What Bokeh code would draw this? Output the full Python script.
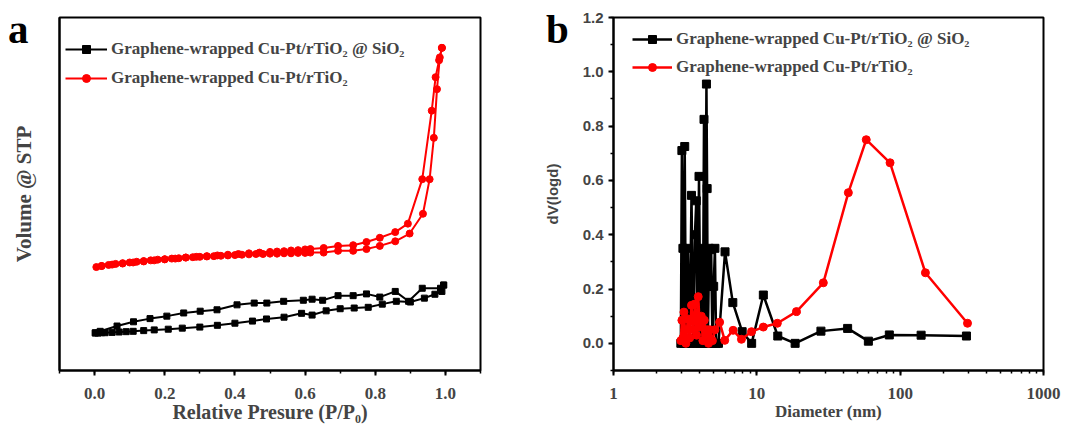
from bokeh.plotting import figure
from bokeh.layouts import row, column
from bokeh.models import (SingleIntervalTicker, FixedTicker, PrintfTickFormatter,
                          BasicTickFormatter, Range1d, Legend, LegendItem, LogTicker, Div)
from bokeh.embed import file_html
from bokeh.resources import INLINE

SERIF = "Liberation Serif"
SANS = "Liberation Sans"

LABEL_SI = "Graphene-wrapped Cu-Pt/rTiO\u2082 @ SiO\u2082"
LABEL_TI = "Graphene-wrapped Cu-Pt/rTiO\u2082"
panel_tags = ["a", "b"]

# ---------------- panel a : isotherms (arbitrary volume units) ----------------
si_ads_x = [0.002, 0.01, 0.02, 0.03, 0.05, 0.07, 0.09, 0.11, 0.14, 0.17, 0.21, 0.25,
            0.30, 0.35, 0.40, 0.45, 0.49, 0.54, 0.59, 0.62, 0.66, 0.70, 0.74, 0.78,
            0.82, 0.86, 0.90, 0.94, 0.97, 0.99, 0.995]
si_ads_y = [10.6, 10.6, 10.7, 10.7, 10.8, 10.9, 11.0, 11.1, 11.3, 11.5, 11.7, 12.0,
            12.3, 12.8, 13.4, 14.0, 14.6, 15.1, 16.2, 15.7, 16.9, 17.5, 17.7, 17.9,
            18.8, 19.6, 19.4, 20.5, 21.6, 22.4, 24.2]
si_des_x = [0.995, 0.986, 0.934, 0.895, 0.857, 0.813, 0.775, 0.737, 0.694, 0.65,
            0.62, 0.595, 0.539, 0.491, 0.455, 0.406, 0.349, 0.301, 0.254, 0.206,
            0.158, 0.111, 0.064, 0.016, 0.002]
si_des_y = [24.2, 23.3, 23.3, 19.6, 22.4, 20.8, 21.7, 21.2, 21.2, 19.9,
            20.2, 19.9, 19.6, 19.1, 19.1, 18.6, 17.2, 16.8, 16.3, 15.4,
            14.7, 13.8, 12.6, 11.1, 10.7]

ti_ads_x = [0.005, 0.02, 0.04, 0.06, 0.08, 0.10, 0.12, 0.14, 0.16, 0.18, 0.20, 0.22,
            0.24, 0.26, 0.28, 0.30, 0.32, 0.34, 0.36, 0.38, 0.40, 0.42, 0.44, 0.46,
            0.48, 0.50, 0.52, 0.54, 0.56, 0.58, 0.60, 0.615, 0.653, 0.694, 0.737,
            0.775, 0.813, 0.857, 0.898, 0.936, 0.955, 0.967, 0.976, 0.984, 0.990]
ti_ads_y = [29.3, 29.6, 29.9, 30.2, 30.4, 30.6, 30.8, 31.0, 31.2, 31.4, 31.5, 31.7,
            31.8, 32.0, 32.1, 32.2, 32.3, 32.4, 32.5, 32.6, 32.7, 32.8, 32.9, 33.0,
            33.0, 33.1, 33.1, 33.2, 33.2, 33.3, 33.3, 33.4, 33.4, 33.9, 33.9,
            34.4, 35.3, 36.6, 38.8, 44.4, 54.2, 65.9, 79.7, 88.7, 91.4]
ti_des_x = [0.990, 0.982, 0.972, 0.961, 0.934, 0.893, 0.857, 0.813, 0.775, 0.737,
            0.694, 0.653, 0.615, 0.60, 0.58, 0.56, 0.54, 0.52, 0.50, 0.47, 0.44,
            0.41, 0.38, 0.35, 0.32, 0.29, 0.26, 0.23, 0.20, 0.17, 0.14, 0.11,
            0.08, 0.05, 0.02]
ti_des_y = [91.4, 87.9, 83.1, 73.6, 54.2, 41.6, 39.2, 37.6, 36.4, 35.5,
            35.3, 34.7, 34.4, 34.3, 34.1, 34.0, 33.8, 33.7, 33.6, 33.4, 33.2,
            33.0, 32.8, 32.6, 32.4, 32.2, 32.0, 31.7, 31.5, 31.2, 30.9, 30.6,
            30.3, 30.0, 29.6]

# ---------------- panel b : pore size distribution ----------------
si_d = [2.95, 3.0, 3.05, 3.1, 3.14, 3.2, 3.3, 3.4, 3.5, 3.6, 3.7, 3.78, 3.85, 3.95,
        4.05, 4.1, 4.2, 4.28, 4.35, 4.45, 4.5, 4.55, 4.65, 4.7, 4.8, 4.9, 5.0, 5.1,
        5.2, 5.4, 6.0, 6.8, 7.9, 9.2, 11.1, 14.0, 18.5, 28.0, 43.0, 60.0, 84.0,
        140.0, 290.0]
si_v = [0.0, 0.71, 0.35, 0.0, 0.725, 0.0, 0.35, 0.0, 0.545, 0.0, 0.40, 0.525, 0.0, 0.615,
        0.0, 0.35, 0.0, 0.825, 0.0, 0.955, 0.57, 0.0, 0.35, 0.21, 0.345, 0.0, 0.21, 0.35,
        0.0, 0.0, 0.337, 0.15, 0.043, 0.0, 0.178, 0.027, 0.0, 0.045, 0.055, 0.008, 0.031,
        0.030, 0.027]
ti_d = [2.95, 3.0, 3.05, 3.1, 3.15, 3.2, 3.3, 3.4, 3.5, 3.6, 3.7, 3.8, 3.9, 4.0, 4.1,
        4.2, 4.3, 4.4, 4.5, 4.6, 4.7, 4.9, 5.1, 5.5, 5.97, 6.83, 7.81, 9.18, 11.1,
        13.9, 18.9, 29.1, 43.5, 58.0, 85.0, 150.0, 295.0]
ti_v = [0.01, 0.085, 0.02, 0.115, 0.05, 0.0, 0.09, 0.02, 0.14, 0.05, 0.145, 0.03, 0.172,
        0.06, 0.10, 0.01, 0.085, 0.03, 0.05, 0.0, 0.05, 0.01, 0.05, 0.078, 0.011, 0.048,
        0.015, 0.043, 0.060, 0.074, 0.117, 0.223, 0.555, 0.75, 0.665, 0.26, 0.074]

a_xticks_interval = 0.2
b_yticks_interval = 0.2


def style_common(p):
    p.outline_line_color = "black"
    p.outline_line_width = 2
    p.xgrid.visible = False
    p.ygrid.visible = False
    p.background_fill_color = "white"
    p.border_fill_color = "white"
    for ax in p.axis:
        ax.axis_line_width = 2
        ax.major_tick_line_width = 2
        ax.minor_tick_line_width = 1.5
        ax.major_tick_in = 0
        ax.major_tick_out = 5
        ax.minor_tick_in = 0
        ax.minor_tick_out = 3


H = 426

# ---------------- figure a ----------------
pa = figure(width=540, height=H, x_range=Range1d(-0.1, 1.1), y_range=Range1d(0, 100),
            output_backend="svg", toolbar_location=None,
            min_border_left=59, min_border_right=60, min_border_top=17, min_border_bottom=56)
style_common(pa)

r1l = pa.line(si_ads_x, si_ads_y, line_color="black", line_width=2)
r1s = pa.scatter(si_ads_x, si_ads_y, marker="square", size=6, color="black")
r1l2 = pa.line(si_des_x, si_des_y, line_color="black", line_width=2)
r1s2 = pa.scatter(si_des_x, si_des_y, marker="square", size=6, color="black")
r2l = pa.line(ti_ads_x, ti_ads_y, line_color="red", line_width=2)
r2s = pa.scatter(ti_ads_x, ti_ads_y, marker="circle", size=7, color="red")
r2l2 = pa.line(ti_des_x, ti_des_y, line_color="red", line_width=2)
r2s2 = pa.scatter(ti_des_x, ti_des_y, marker="circle", size=7, color="red")

pa.xaxis.ticker = SingleIntervalTicker(interval=a_xticks_interval, num_minor_ticks=2)
pa.xaxis.formatter = PrintfTickFormatter(format="%.1f")
pa.xaxis.major_label_text_font = SERIF
pa.xaxis.major_label_text_font_style = "bold"
pa.xaxis.major_label_text_font_size = "17px"
pa.xaxis.major_label_standoff = 12
pa.xaxis.axis_label = "Relative Presure (P/P\u2080)"
pa.xaxis.axis_label_text_font = SERIF
pa.xaxis.axis_label_text_font_style = "bold"
pa.xaxis.axis_label_text_font_size = "20px"
pa.xaxis.axis_label_standoff = -1

pa.yaxis.ticker = FixedTicker(ticks=[])
pa.yaxis.axis_label = "Volume @ STP"
pa.yaxis.axis_label_text_font = SERIF
pa.yaxis.axis_label_text_font_style = "bold"
pa.yaxis.axis_label_text_font_size = "21px"
pa.yaxis.axis_label_standoff = 24

leg_a = Legend(items=[LegendItem(label=LABEL_SI, renderers=[r1l, r1s]),
                      LegendItem(label=LABEL_TI, renderers=[r2l, r2s])],
               location=(6, 282), glyph_width=42, glyph_height=20, label_height=20,
               spacing=9, padding=0, label_standoff=4, border_line_alpha=0,
               background_fill_alpha=0, label_text_font=SERIF,
               label_text_font_style="bold", label_text_font_size="17px")
pa.add_layout(leg_a)

# ---------------- figure b ----------------
pb = figure(width=527, height=H, x_axis_type="log", x_range=Range1d(1, 1000),
            y_range=Range1d(-0.1, 1.2001), output_backend="svg", toolbar_location=None,
            min_border_left=73, min_border_right=24, min_border_top=17, min_border_bottom=56)
style_common(pb)

b1l = pb.line(si_d, si_v, line_color="black", line_width=2.5)
b1s = pb.scatter(si_d, si_v, marker="square", size=8, color="black")
b2l = pb.line(ti_d, ti_v, line_color="red", line_width=2.5)
b2s = pb.scatter(ti_d, ti_v, marker="circle", size=8, color="red")

pb.xaxis.ticker = LogTicker(num_minor_ticks=10)
pb.xaxis.formatter = BasicTickFormatter()
pb.xaxis.major_label_text_font = SERIF
pb.xaxis.major_label_text_font_style = "bold"
pb.xaxis.major_label_text_font_size = "17px"
pb.xaxis.major_label_standoff = 12
pb.xaxis.axis_label = "Diameter (nm)"
pb.xaxis.axis_label_text_font = SERIF
pb.xaxis.axis_label_text_font_style = "bold"
pb.xaxis.axis_label_text_font_size = "17px"
pb.xaxis.axis_label_standoff = 0

pb.yaxis.ticker = SingleIntervalTicker(interval=b_yticks_interval, num_minor_ticks=2)
pb.yaxis.formatter = PrintfTickFormatter(format="%.1f")
pb.yaxis.major_label_text_font = SANS
pb.yaxis.major_label_text_font_style = "bold"
pb.yaxis.major_label_text_font_size = "15px"
pb.yaxis.major_label_standoff = 5
pb.yaxis.axis_label = "dV(logd)"
pb.yaxis.axis_label_text_font = SANS
pb.yaxis.axis_label_text_font_style = "bold"
pb.yaxis.axis_label_text_font_size = "15px"
pb.yaxis.axis_label_standoff = 19

leg_b = Legend(items=[LegendItem(label=LABEL_SI, renderers=[b1l, b1s]),
                      LegendItem(label=LABEL_TI, renderers=[b2l, b2s])],
               location=(19, 293), glyph_width=40, glyph_height=20, label_height=20,
               spacing=8, padding=0, label_standoff=4, border_line_alpha=0,
               background_fill_alpha=0, label_text_font=SERIF,
               label_text_font_style="bold", label_text_font_size="17px")
pb.add_layout(leg_b)

# panel letters "a" / "b" as real text overlaid at the top-left of each panel
tag_left = [8, 546]
spans = "".join(
    '<span style="position:absolute;left:%dpx;top:-3px;font-family:\'Liberation Serif\';'
    'font-weight:bold;font-size:41px;line-height:1;color:black;z-index:10;">%s</span>'
    % (lx, t) for lx, t in zip(tag_left, panel_tags))
overlay = Div(text='<div style="position:relative;width:0;height:0;overflow:visible;">'
              + spans + '</div>', width=0, height=0, margin=0,
              styles={"overflow": "visible", "z-index": "10"})

layout = column(overlay, row(pa, pb), spacing=0)
open("out.html", "w").write(file_html(layout, INLINE))
